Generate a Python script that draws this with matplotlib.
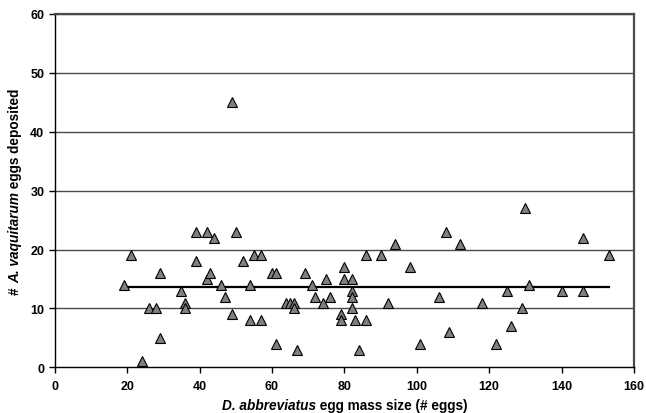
import matplotlib
matplotlib.use('Agg')
import matplotlib.pyplot as plt

plt.rcParams['font.family'] = ['Liberation Sans', 'DejaVu Sans']

# egg mass size (x) vs eggs deposited (y)
mass_size = [19, 21, 24, 26, 28, 29, 29, 35, 36, 36,
             39, 39, 42, 42, 43, 44, 46, 47, 49, 49,
             50, 52, 54, 54, 55, 57, 57, 60, 61, 61,
             64, 65, 66, 66, 67, 69, 71, 72, 74, 75,
             76, 79, 79, 80, 80, 82, 82, 82, 82, 83,
             84, 86, 86, 90, 92, 94, 98, 101, 106, 108,
             109, 112, 118, 122, 125, 126, 129, 130, 131, 140,
             146, 146, 153]
eggs_deposited = [14, 19, 1, 10, 10, 16, 5, 13, 11, 10,
                  23, 18, 23, 15, 16, 22, 14, 12, 45, 9,
                  23, 18, 14, 8, 19, 19, 8, 16, 16, 4,
                  11, 11, 11, 10, 3, 16, 14, 12, 11, 15,
                  12, 9, 8, 17, 15, 15, 13, 12, 10, 8,
                  3, 19, 8, 19, 11, 21, 17, 4, 12, 23,
                  6, 21, 11, 4, 13, 7, 10, 27, 14, 13,
                  22, 13, 19]

# fitted line (flat)
trend_x = [19, 153]
trend_y = [13.7, 13.7]

x_ticks = [0, 20, 40, 60, 80, 100, 120, 140, 160]
y_ticks = [0, 10, 20, 30, 40, 50, 60]

W, H = 646, 414
fig = plt.figure(figsize=(6.46, 4.14), dpi=100)
ax = fig.add_axes([0.0848, 0.1104, 0.8966, 0.8534])

for yv in y_ticks[1:]:
    ax.axhline(yv, color='#4a4a4a', linewidth=1.0, zorder=1)

ax.plot(trend_x, trend_y, color='black', linewidth=1.6, zorder=2)
ax.plot(mass_size, eggs_deposited, linestyle='none', marker='^', markersize=6.8,
        markerfacecolor='#808080', markeredgecolor='black', markeredgewidth=0.8, zorder=3)

ax.set_xlim(0, 160)
ax.set_ylim(0, 60)
ax.set_xticks(x_ticks)
ax.set_yticks(y_ticks)
ax.tick_params(direction='out', length=4, width=1, labelsize=9)
ax.tick_params(axis='x', pad=5)
ax.tick_params(axis='y', pad=3.5)
for lab in ax.get_xticklabels() + ax.get_yticklabels():
    lab.set_fontweight('bold')

for side in ['left', 'bottom']:
    ax.spines[side].set_color('black')
    ax.spines[side].set_linewidth(1.0)
for side in ['top', 'right']:
    ax.spines[side].set_color('#4a4a4a')
    ax.spines[side].set_linewidth(1.6)

lab_size = 9.8

# x label with italic species name
t1 = fig.text(220 / W, 1 - 410 / H, 'D. abbreviatus', fontsize=lab_size,
              fontweight='bold', fontstyle='italic', ha='left', va='baseline')
t2 = ax.annotate(' egg mass size (# eggs)', xy=(1, 0), xycoords=t1, ha='left', va='bottom',
                 fontsize=lab_size, fontweight='bold', annotation_clip=False)

# y label, rotated
y0 = fig.text(15 / W, 1 - 290 / H, '# ', fontsize=lab_size, fontweight='bold',
              rotation=90, ha='center', va='bottom')
y1 = ax.annotate('A. vaquitarum', xy=(0.5, 1), xycoords=y0, ha='center', va='bottom',
                 fontsize=lab_size, fontweight='bold', fontstyle='italic', rotation=90,
                 annotation_clip=False)
y2 = ax.annotate(' eggs deposited', xy=(0.5, 1), xycoords=y1, ha='center', va='bottom',
                 fontsize=lab_size, fontweight='bold', rotation=90, annotation_clip=False)

# centre both labels on the plot area
fig.canvas.draw()
r = fig.canvas.get_renderer()
axb = ax.get_window_extent(r)
x_left = t1.get_window_extent(r).x0
x_right = t2.get_window_extent(r).x1
dx = (axb.x0 + axb.x1) / 2 - (x_left + x_right) / 2
t1.set_x(t1.get_position()[0] + dx / W)
y_bot = y0.get_window_extent(r).y0
y_top = y2.get_window_extent(r).y1
dy = (axb.y0 + axb.y1) / 2 - (y_bot + y_top) / 2
y0.set_y(y0.get_position()[1] + dy / H)

fig.savefig('out.png', dpi=100)
